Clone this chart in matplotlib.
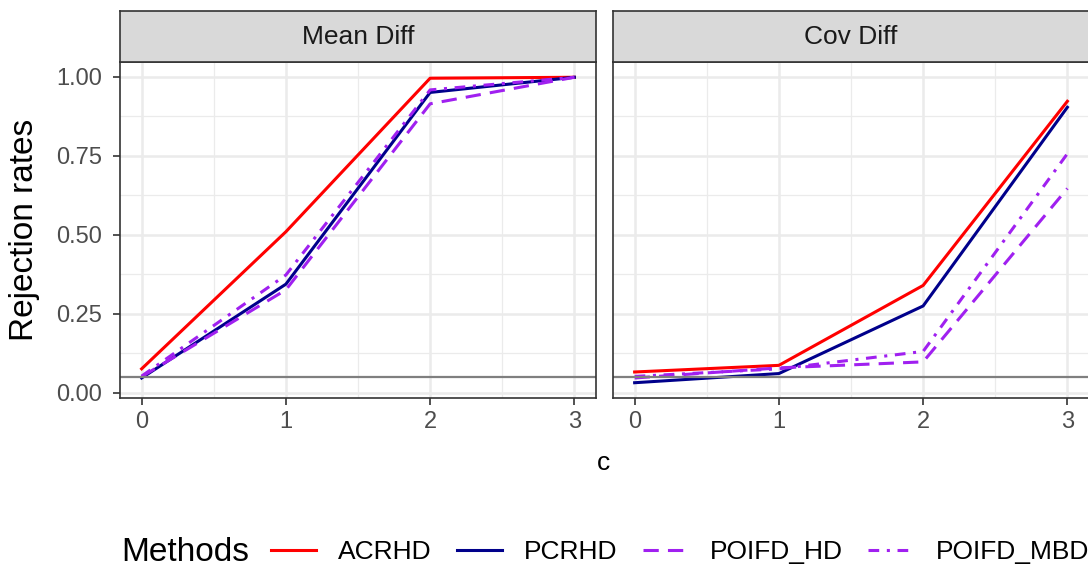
import numpy as np
import matplotlib
matplotlib.use("Agg")
import matplotlib.pyplot as plt

plt.rcParams['font.family'] = ['Liberation Sans', 'DejaVu Sans']

# rejection rates per scenario, one value per level of c
c_vals = [0, 1, 2, 3]
panels = ["Mean Diff", "Cov Diff"]
methods = ["ACRHD", "PCRHD", "POIFD_HD", "POIFD_MBD"]

mean_acrhd = [0.075, 0.509, 0.995, 0.998]
mean_pcrhd = [0.046, 0.343, 0.950, 0.998]
mean_poifd_hd = [0.050, 0.325, 0.914, 0.998]
mean_poifd_mbd = [0.052, 0.372, 0.958, 0.998]

cov_acrhd = [0.065, 0.086, 0.339, 0.922]
cov_pcrhd = [0.031, 0.060, 0.274, 0.903]
cov_poifd_hd = [0.046, 0.078, 0.097, 0.646]
cov_poifd_mbd = [0.051, 0.075, 0.130, 0.756]

alpha_level = 0.05

data = {
    "Mean Diff": [mean_acrhd, mean_pcrhd, mean_poifd_hd, mean_poifd_mbd],
    "Cov Diff": [cov_acrhd, cov_pcrhd, cov_poifd_hd, cov_poifd_mbd],
}

colors = ["#FF0000", "#00008B", "#A020F0", "#A020F0"]
dashes = [None, None, (5.0, 3.0), (3.5, 2.5, 1.0, 2.5)]

# shared y range, padded like ggplot's default expansion
all_vals = np.concatenate([np.ravel(v) for v in data.values()] + [[alpha_level]])
lo, hi = all_vals.min(), all_vals.max()
pad = 0.05 * (hi - lo)
ylim = (lo - pad, hi + pad)

W, H = 1088, 569
fig = plt.figure(figsize=(W / 100, H / 100), dpi=100)

panel_left = [120, 613]
panel_w, panel_top, panel_bot = 476, 62, 398
strip_top = 11

border = "#333333"
handles = []
for i, name in enumerate(panels):
    x0 = panel_left[i]
    ax = fig.add_axes([x0 / W, 1 - panel_bot / H, panel_w / W, (panel_bot - panel_top) / H])
    ax.set_xlim(-0.15, 3.15)
    ax.set_ylim(*ylim)
    ax.set_xticks(c_vals)
    ax.set_xticks([0.5, 1.5, 2.5], minor=True)
    ax.set_yticks([0, 0.25, 0.5, 0.75, 1.0])
    ax.set_yticks([0.125, 0.375, 0.625, 0.875], minor=True)
    ax.grid(which='major', color='#EBEBEB', linewidth=1.8)
    ax.grid(which='minor', color='#EBEBEB', linewidth=0.9)
    ax.set_axisbelow(True)
    for s in ax.spines.values():
        s.set_color(border)
        s.set_linewidth(1.2)
    ax.tick_params(which='minor', length=0)
    ax.tick_params(which='major', direction='out', length=5, width=1.2, color=border,
                   labelsize=17, labelcolor='#4D4D4D')
    ax.tick_params(axis='x', pad=4)
    ax.tick_params(axis='y', pad=8)
    if i == 0:
        ax.set_yticklabels(["0.00", "0.25", "0.50", "0.75", "1.00"])
    else:
        ax.tick_params(axis='y', left=False, labelleft=False)

    for vals, col, ds, lab in zip(data[name], colors, dashes, methods):
        ln, = ax.plot(c_vals, vals, color=col, linewidth=2.2, label=lab)
        if ds is not None:
            ln.set_dashes(ds)
        if i == 0:
            handles.append(ln)
    ax.axhline(alpha_level, color='#7F7F7F', linewidth=1.6)

    # facet strip
    sax = fig.add_axes([x0 / W, 1 - panel_top / H, panel_w / W, (panel_top - strip_top) / H])
    sax.set_facecolor('#D9D9D9')
    sax.set_xticks([])
    sax.set_yticks([])
    for s in sax.spines.values():
        s.set_color(border)
        s.set_linewidth(1.2)
    sax.text(0.5, 0.5, name, ha='center', va='center', fontsize=19,
             color='#1A1A1A', transform=sax.transAxes)

fig.text(25 / W, 1 - 230 / H, "Rejection rates", rotation=90, ha='center',
         va='center', fontsize=24)
fig.text(604 / W, 1 - 470 / H, "c", ha='center', va='baseline', fontsize=19)

fig.text(121 / W, 1 - 561 / H, "Methods", ha='left', va='baseline', fontsize=24)
fig.legend(handles=handles, labels=methods, loc='center left',
           bbox_to_anchor=(271 / W, 1 - 552 / H), ncol=4, frameon=False,
           fontsize=19, handlelength=1.7, handletextpad=0.85,
           columnspacing=0.95, borderpad=0, borderaxespad=0)

fig.savefig("out.png", dpi=100)
